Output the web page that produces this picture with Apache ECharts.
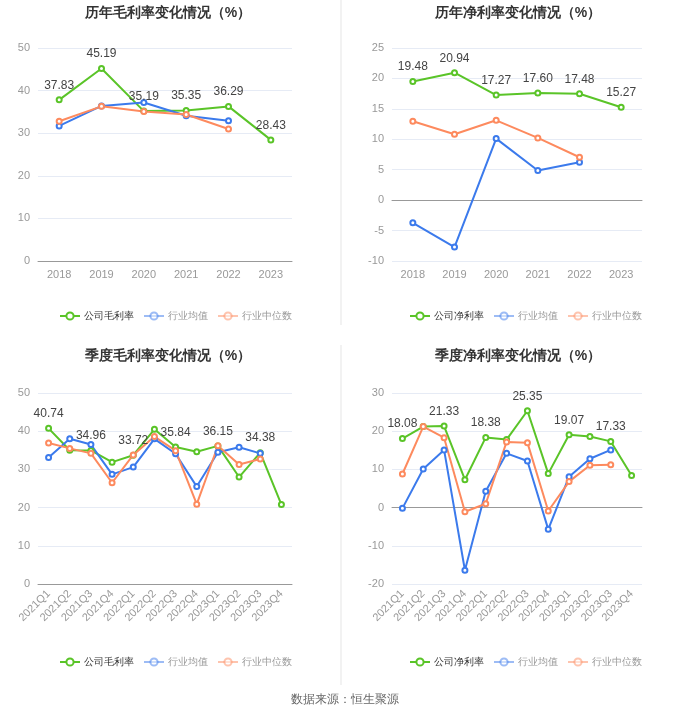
<!DOCTYPE html>
<html>
<head>
<meta charset="utf-8">
<script src="https://cdn.jsdelivr.net/npm/echarts@6/dist/echarts.min.js"></script>
<style>
  html, body { margin: 0; padding: 0; background: #fff; }
  #main { width: 680px; height: 712px; }
</style>
</head>
<body>
<div id="main"></div>
<script>
// 年度 / 季度 类目
var years = ['2018', '2019', '2020', '2021', '2022', '2023'];
var quarters = ['2021Q1', '2021Q2', '2021Q3', '2021Q4', '2022Q1', '2022Q2', '2022Q3', '2022Q4', '2023Q1', '2023Q2', '2023Q3', '2023Q4'];

// 历年毛利率
var grossYear = [37.83, 45.19, 35.19, 35.35, 36.29, 28.43];
var grossYearAvg = [31.7, 36.4, 37.2, 34.1, 32.9];
var grossYearMid = [32.8, 36.3, 35.1, 34.4, 31.0];

// 历年净利率
var netYear = [19.48, 20.94, 17.27, 17.60, 17.48, 15.27];
var netYearAvg = [-3.72, -7.71, 10.11, 4.87, 6.23];
var netYearMid = [12.96, 10.83, 13.12, 10.22, 7.05];

// 季度毛利率
var grossQ = [40.74, 35.0, 34.96, 31.9, 33.72, 40.5, 35.84, 34.6, 36.15, 28.0, 34.38, 20.8];
var grossQAvg = [33.1, 38.0, 36.5, 28.7, 30.6, 38.0, 34.1, 25.5, 34.5, 35.8, 34.2];
var grossQMid = [36.9, 35.5, 34.2, 26.5, 33.8, 38.6, 34.9, 20.9, 36.2, 31.3, 32.7];

// 季度净利率
var netQ = [18.08, 21.2, 21.33, 7.3, 18.38, 17.8, 25.35, 8.9, 19.07, 18.6, 17.33, 8.4];
var netQAvg = [-0.2, 10.1, 15.1, -16.4, 4.3, 14.2, 12.2, -5.7, 8.1, 12.8, 15.1];
var netQMid = [8.8, 21.2, 18.3, -1.1, 1.0, 17.2, 17.0, -0.9, 6.8, 11.1, 11.2];

var GREEN = '#5ac428', BLUE = '#3b7aec', ORANGE = '#fd8a5e';

var chart = echarts.init(document.getElementById('main'));

function title(text, left, top) {
  return {
    text: text, left: left, top: top, textAlign: 'center',
    textStyle: { fontSize: 14, fontWeight: 'bold', color: '#333' }
  };
}

function legend(first, left, top) {
  var faded = { opacity: 0.5 };
  return {
    left: left, top: top, width: 300, itemWidth: 20, itemHeight: 9, itemGap: 9,
    textStyle: { fontSize: 10, color: '#333', padding: [0, 0, 0, -1] },
    data: [
      { name: first },
      { name: '行业均值', textStyle: { color: '#999' }, itemStyle: faded, lineStyle: faded },
      { name: '行业中位数', textStyle: { color: '#999' }, itemStyle: faded, lineStyle: faded }
    ]
  };
}

function xAxis(idx, data, rotate) {
  return {
    type: 'category', gridIndex: idx, data: data,
    axisLine: { lineStyle: { color: '#999' } },
    axisTick: { alignWithLabel: true, lineStyle: { color: '#999' } },
    axisLabel: { color: '#999', fontSize: 11, interval: 0, rotate: rotate, margin: 8 }
  };
}

function yAxis(idx, min, max, step) {
  return {
    type: 'value', gridIndex: idx, min: min, max: max, interval: step,
    axisLine: { show: false }, axisTick: { show: false },
    axisLabel: { color: '#999', fontSize: 11 },
    splitLine: { lineStyle: { color: '#e6ebf5' } }
  };
}

function line(name, idx, data, color, labelEvery) {
  var s = {
    name: name, type: 'line', xAxisIndex: idx, yAxisIndex: idx, data: data,
    symbol: 'emptyCircle', symbolSize: 5,
    itemStyle: { color: color }, lineStyle: { color: color, width: 2 }
  };
  if (labelEvery) {
    s.label = {
      show: true, position: 'top', color: '#444', fontSize: 12,
      formatter: function (p) {
        return p.dataIndex % labelEvery === 0 ? p.value.toFixed(2) : '';
      }
    };
  }
  return s;
}

var option = {
  backgroundColor: '#fff',
  animation: false,
  title: [
    title('历年毛利率变化情况（%）', 163, 1),
    title('历年净利率变化情况（%）', 513, 1),
    title('季度毛利率变化情况（%）', 163, 344),
    title('季度净利率变化情况（%）', 513, 344),
    {
      text: '数据来源：恒生聚源', left: 340, top: 689, textAlign: 'center',
      textStyle: { fontSize: 12, fontWeight: 'normal', color: '#666' }
    }
  ],
  legend: [
    legend('公司毛利率', 54, 306),
    legend('公司净利率', 404, 306),
    legend('公司毛利率', 54, 652),
    legend('公司净利率', 404, 652)
  ],
  grid: [
    { left: 38, right: 388, top: 48, bottom: 451 },
    { left: 392, right: 38, top: 48, bottom: 451 },
    { left: 38, right: 388, top: 393, bottom: 128 },
    { left: 392, right: 38, top: 393, bottom: 128 }
  ],
  xAxis: [
    xAxis(0, years, 0),
    xAxis(1, years, 0),
    xAxis(2, quarters, 45),
    xAxis(3, quarters, 45)
  ],
  yAxis: [
    yAxis(0, 0, 50, 10),
    yAxis(1, -10, 25, 5),
    yAxis(2, 0, 50, 10),
    yAxis(3, -20, 30, 10)
  ],
  graphic: [
    { type: 'rect', shape: { x: 340, y: 0, width: 2, height: 325 }, style: { fill: '#f2f2f2' } },
    { type: 'rect', shape: { x: 340, y: 345, width: 2, height: 340 }, style: { fill: '#f2f2f2' } }
  ],
  series: [
    line('公司毛利率', 0, grossYear, GREEN, 1),
    line('行业均值', 0, grossYearAvg, BLUE),
    line('行业中位数', 0, grossYearMid, ORANGE),

    line('公司净利率', 1, netYear, GREEN, 1),
    line('行业均值', 1, netYearAvg, BLUE),
    line('行业中位数', 1, netYearMid, ORANGE),

    line('公司毛利率', 2, grossQ, GREEN, 2),
    line('行业均值', 2, grossQAvg, BLUE),
    line('行业中位数', 2, grossQMid, ORANGE),

    line('公司净利率', 3, netQ, GREEN, 2),
    line('行业均值', 3, netQAvg, BLUE),
    line('行业中位数', 3, netQMid, ORANGE)
  ]
};

chart.setOption(option);
</script>
</body>
</html>
